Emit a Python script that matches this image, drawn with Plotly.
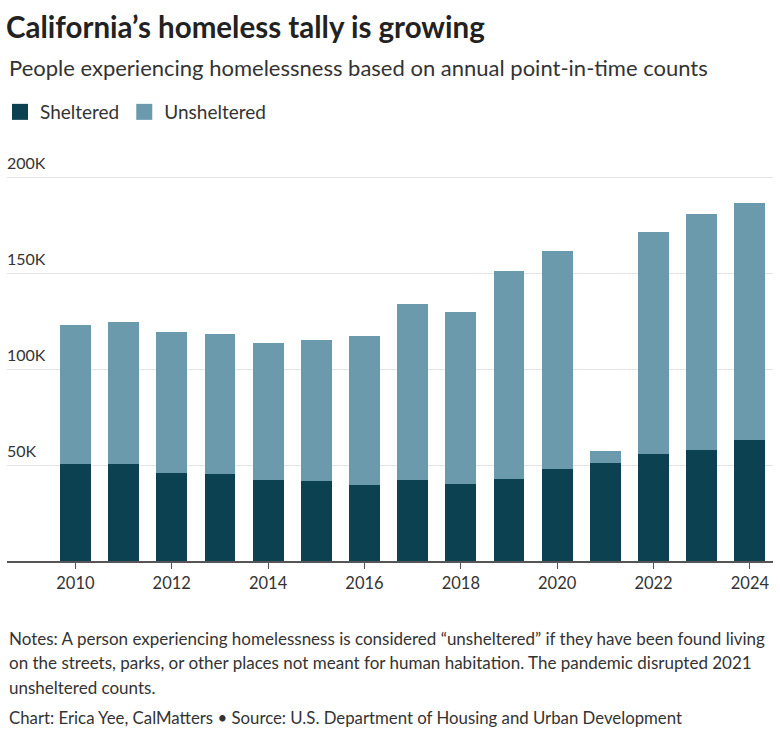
import plotly.graph_objects as go

years = list(range(2010, 2025))
total = [123.1, 124.5, 119.4, 118.2, 113.5, 115.3, 117.5, 133.9, 129.5, 150.9,
         161.3, 57.1, 171.2, 180.9, 186.5]
sheltered_k = [50.7, 50.3, 45.8, 45.5, 42.4, 41.7, 39.4, 42.4, 40.3, 42.7,
               47.7, 51.0, 55.7, 57.8, 62.8]
sheltered = [round(s * 1000) for s in sheltered_k]
unsheltered = [round((t - s) * 1000) for t, s in zip(total, sheltered_k)]

y_tickvals = [50000, 100000, 150000, 200000]
y_ticktext = ["50K", "100K", "150K", "200K"]
x_tickvals = [2010, 2012, 2014, 2016, 2018, 2020, 2022, 2024]

notes_lines = [
    "Notes: A person experiencing homelessness is considered “unsheltered” if they have been found living",
    "on the streets, parks, or other places not meant for human habitation. The pandemic disrupted 2021",
    "unsheltered counts.",
]
source_line = "Chart: Erica Yee, CalMatters • Source: U.S. Department of Housing and Urban Development"

C_SHEL = "#0b4150"
C_UNSH = "#6b9aad"
FONT = "Lato"
TXT = "#333333"

fig = go.Figure()
fig.add_trace(go.Bar(x=years, y=sheltered, name="Sheltered",
                     marker=dict(color=C_SHEL, line=dict(width=0)), showlegend=False))
fig.add_trace(go.Bar(x=years, y=unsheltered, name="Unsheltered",
                     marker=dict(color=C_UNSH, line=dict(width=0)), showlegend=False))
for nm, c in [("Sheltered", C_SHEL), ("Unsheltered", C_UNSH)]:
    fig.add_trace(go.Scatter(x=[None], y=[None], mode="markers", name=nm,
                             marker=dict(symbol="square", size=17, color=c)))

W, H = 780, 736
mt, mb = 158, 175
ph = H - mt - mb


def py(pix):
    return (H - mb - pix) / ph


annotations = [
    dict(text="People experiencing homelessness based on annual point-in-time counts",
         xref="paper", x=0, xanchor="left", yref="paper", y=py(68), yanchor="middle",
         showarrow=False, font=dict(size=22, color=TXT)),
]
for i, line in enumerate(notes_lines):
    annotations.append(dict(text=line, xref="paper", x=0, xanchor="left",
                            yref="paper", y=py(638 + 24.5 * i), yanchor="middle",
                            showarrow=False, font=dict(size=17, color=TXT)))
annotations.append(dict(text=source_line, xref="paper", x=0, xanchor="left",
                        yref="paper", y=py(717), yanchor="middle",
                        showarrow=False, font=dict(size=16.8, color=TXT)))
for v, t in zip(y_tickvals, y_ticktext):
    annotations.append(dict(text=t, xref="paper", x=0, xanchor="left", yref="y", y=v,
                            yanchor="bottom", yshift=3, xshift=-2, showarrow=False,
                            font=dict(size=16, color=TXT)))

fig.update_layout(
    width=W, height=H,
    barmode="stack", bargap=0.36,
    paper_bgcolor="white", plot_bgcolor="white",
    margin=dict(l=7, r=7, t=mt, b=mb, pad=0),
    font=dict(family=FONT, color=TXT, size=16),
    title=dict(text="<b>California’s homeless tally is growing</b>",
               font=dict(family=FONT, size=29.5, color="#222222"),
               x=6 / W, xanchor="left", xref="container",
               y=1 - 28 / H, yanchor="middle", yref="container"),
    legend=dict(orientation="h", x=0, xref="container", xanchor="left",
                y=1 - 112 / H, yref="container", yanchor="middle",
                traceorder="normal",
                font=dict(size=19, color=TXT), itemclick=False,
                tracegroupgap=0, bgcolor="rgba(0,0,0,0)"),
    xaxis=dict(range=[2008.58, 2024.48], tickvals=x_tickvals, showgrid=False,
               showline=True, linecolor="#555555", linewidth=1.5,
               ticks="outside", ticklen=6, tickcolor="#555555", tickwidth=1,
               tickfont=dict(size=16.5, color=TXT), fixedrange=True),
    yaxis=dict(range=[0, 210000], tickvals=y_tickvals, showticklabels=False,
               showgrid=True, gridcolor="#e3e3e3", gridwidth=1,
               zeroline=False, showline=False, ticks="", fixedrange=True),
    annotations=annotations,
)

fig.write_html("out.html", config={"displayModeBar": False},
               post_script="document.body.style.margin='0';")
